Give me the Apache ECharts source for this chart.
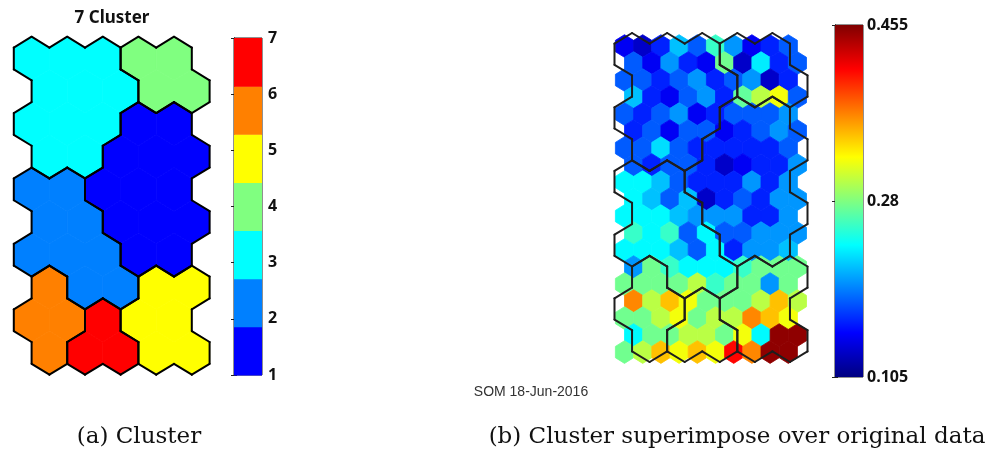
<!DOCTYPE html>
<html>
<head>
<meta charset="utf-8">
<script src="https://cdn.jsdelivr.net/npm/echarts@6/dist/echarts.min.js"></script>
<style>
  html, body { margin: 0; padding: 0; background: #ffffff; }
  #chart { width: 990px; height: 468px; }
</style>
</head>
<body>
<div id="chart"></div>
<script>
// Cluster label of every unit of the 10 x 5 hexagonal map (row 0 on top, odd rows shifted right)
const clusterRows = [
  [3, 3, 3, 4, 4],
  [3, 3, 3, 4, 4],
  [3, 3, 3, 1, 1],
  [3, 3, 1, 1, 1],
  [2, 2, 1, 1, 1],
  [2, 2, 1, 1, 1],
  [2, 2, 2, 1, 1],
  [6, 2, 2, 5, 5],
  [6, 6, 7, 5, 5],
  [6, 7, 7, 5, 5]
];
const clusterColors = ['#0000ff', '#0080ff', '#00ffff', '#80ff80', '#ffff00', '#ff8000', '#ff0000'];
const clusterTicks = [1, 2, 3, 4, 5, 6, 7];

// Original data plane, 19 x 10 hexagonal units (row 0 on top, odd rows shifted right)
const dataRows = [
  [0.145, 0.130, 0.160, 0.215, 0.180, 0.255, 0.200, 0.145, 0.160, 0.180],
  [0.180, 0.145, 0.200, 0.160, 0.145, 0.275, 0.130, 0.230, 0.160, 0.180],
  [0.180, 0.180, 0.160, 0.180, 0.200, 0.160, 0.180, 0.200, 0.130, 0.160],
  [0.215, 0.160, 0.145, 0.180, 0.200, 0.160, 0.270, 0.300, 0.320, 0.180],
  [0.180, 0.160, 0.180, 0.200, 0.145, 0.160, 0.180, 0.180, 0.180, 0.200],
  [0.160, 0.180, 0.145, 0.180, 0.180, 0.145, 0.160, 0.180, 0.200, 0.180],
  [0.180, 0.180, 0.225, 0.180, 0.160, 0.160, 0.160, 0.160, 0.160, 0.180],
  [0.180, 0.160, 0.180, 0.180, 0.160, 0.130, 0.145, 0.160, 0.160, 0.200],
  [0.235, 0.235, 0.215, 0.180, 0.160, 0.160, 0.160, 0.200, 0.160, 0.200],
  [0.235, 0.215, 0.180, 0.215, 0.130, 0.160, 0.180, 0.160, 0.200, 0.200],
  [0.235, 0.235, 0.235, 0.215, 0.200, 0.200, 0.200, 0.160, 0.160, 0.200],
  [0.255, 0.235, 0.255, 0.180, 0.235, 0.180, 0.180, 0.200, 0.200, 0.200],
  [0.235, 0.235, 0.235, 0.215, 0.180, 0.235, 0.160, 0.200, 0.200, 0.215],
  [0.200, 0.275, 0.255, 0.235, 0.235, 0.235, 0.255, 0.275, 0.275, 0.275],
  [0.275, 0.275, 0.275, 0.275, 0.300, 0.255, 0.275, 0.275, 0.200, 0.275],
  [0.365, 0.300, 0.345, 0.320, 0.275, 0.275, 0.275, 0.300, 0.345, 0.300],
  [0.275, 0.275, 0.300, 0.320, 0.275, 0.300, 0.300, 0.365, 0.345, 0.320],
  [0.235, 0.275, 0.275, 0.300, 0.300, 0.275, 0.320, 0.235, 0.450, 0.450],
  [0.275, 0.300, 0.345, 0.320, 0.345, 0.320, 0.410, 0.365, 0.450, 0.450]
];
const valueMin = 0.105;
const valueMax = 0.455;
const valueTicks = [0.105, 0.28, 0.455];
const valueTickLabels = ['0.105', '0.28', '0.455'];

const jetColors = ['#000080', '#0000ff', '#0080ff', '#00ffff', '#80ff80', '#ffff00', '#ff8000', '#ff0000', '#800000'];

// Pointy-top hexagon, in (column, row) units
const HEX = [[0, -2 / 3], [0.5, -1 / 3], [0.5, 1 / 3], [0, 2 / 3], [-0.5, 1 / 3], [-0.5, -1 / 3]];

function cellData(rows) {
  const out = [];
  rows.forEach((row, r) => row.forEach((v, c) => out.push([c + (r % 2 ? 0.5 : 0), r, v])));
  return out;
}

function neighbour(r, c, e) {
  const odd = r % 2 === 1;
  switch (e) {
    case 0: return [r - 1, odd ? c + 1 : c];
    case 1: return [r, c + 1];
    case 2: return [r + 1, odd ? c + 1 : c];
    case 3: return [r + 1, odd ? c : c - 1];
    case 4: return [r, c - 1];
    default: return [r - 1, odd ? c : c - 1];
  }
}

// Edges separating different clusters (and the outer border of the map)
function borderSegments(rows) {
  const segs = [];
  rows.forEach((row, r) => row.forEach((k, c) => {
    const x = c + (r % 2 ? 0.5 : 0);
    for (let e = 0; e < 6; e++) {
      const [nr, nc] = neighbour(r, c, e);
      const other = rows[nr] ? rows[nr][nc] : undefined;
      if (other !== k) {
        const a = HEX[e], b = HEX[(e + 1) % 6];
        segs.push([x + a[0], r + a[1], x + b[0], r + b[1]]);
      }
    }
  }));
  return segs;
}

function hexPoints(api) {
  const cx = api.value(0), cy = api.value(1);
  return HEX.map(v => api.coord([cx + v[0], cy + v[1]]));
}

function renderClusterHex(params, api) {
  const col = clusterColors[api.value(2) - 1];
  return { type: 'polygon', shape: { points: hexPoints(api) }, style: { fill: col, stroke: col, lineWidth: 0.8 } };
}

function renderDataHex(params, api) {
  const col = api.visual('color');
  return { type: 'polygon', shape: { points: hexPoints(api) }, style: { fill: col, stroke: col, lineWidth: 0.8 } };
}

function segmentRenderer(color, width) {
  return function (params, api) {
    const p1 = api.coord([api.value(0), api.value(1)]);
    const p2 = api.coord([api.value(2), api.value(3)]);
    return {
      type: 'line',
      shape: { x1: p1[0], y1: p1[1], x2: p2[0], y2: p2[1] },
      style: { stroke: color, lineWidth: width, lineCap: 'round' }
    };
  };
}

function renderClusterBand(params, api) {
  const k = api.value(0);
  const n = clusterTicks.length;
  const lo = 1 + (k - 1) * (n - 1) / n;
  const hi = 1 + k * (n - 1) / n;
  const p1 = api.coord([0, hi]);
  const p2 = api.coord([1, lo]);
  return {
    type: 'rect',
    shape: { x: p1[0], y: p1[1], width: p2[0] - p1[0], height: p2[1] - p1[1] + 0.5 },
    style: { fill: clusterColors[k - 1] }
  };
}

function renderValueBar(params, api) {
  const p1 = api.coord([0, api.value(1)]);
  const p2 = api.coord([1, api.value(0)]);
  const stops = jetColors.map((c, i) => ({ offset: i / (jetColors.length - 1), color: c }));
  return {
    type: 'rect',
    shape: { x: p1[0], y: p1[1], width: p2[0] - p1[0], height: p2[1] - p1[1] },
    style: { fill: new echarts.graphic.LinearGradient(0, 1, 0, 0, stops) }
  };
}

const hiddenAxis = (grid, min, max, inverse) => ({
  type: 'value', gridIndex: grid, min: min, max: max, inverse: !!inverse, show: false
});

const labelFont = { color: '#111', fontWeight: 'bold', fontFamily: 'Open Sans, Noto Sans, sans-serif' };

const chart = echarts.init(document.getElementById('chart'), null, { renderer: 'canvas' });

chart.setOption({
  animation: false,
  backgroundColor: '#ffffff',
  grid: [
    { left: 13.8, top: 36.7, width: 195.8, height: 338 },                 // cluster map
    { left: 615.4, top: 34.7, width: 191.1, height: 328.7 },              // data plane
    { left: 614.5, top: 33, width: 193, height: 329 },                    // cluster outline over data
    { left: 234, top: 38, width: 28, height: 337, show: true, borderColor: '#222', borderWidth: 1 },
    { left: 835, top: 25, width: 28, height: 352, show: true, borderColor: '#222', borderWidth: 1 }
  ],
  xAxis: [
    hiddenAxis(0, -0.5, 5),
    hiddenAxis(1, -0.5, 10),
    hiddenAxis(2, -0.5, 5),
    hiddenAxis(3, 0, 1),
    hiddenAxis(4, 0, 1)
  ],
  yAxis: [
    hiddenAxis(0, -2 / 3, 9 + 2 / 3, true),
    hiddenAxis(1, -2 / 3, 18 + 2 / 3, true),
    hiddenAxis(2, -2 / 3, 9 + 2 / 3, true),
    {
      type: 'value', gridIndex: 3, min: 1, max: 7, interval: 1, position: 'right',
      axisLine: { show: true, lineStyle: { color: '#222', width: 1 } },
      axisTick: { show: true, inside: true, length: 3, lineStyle: { color: '#222' } },
      axisLabel: Object.assign({ fontSize: 16, margin: 6 }, labelFont),
      splitLine: { show: false }
    },
    {
      type: 'value', gridIndex: 4, min: valueMin, max: valueMax, position: 'right',
      axisLine: { show: true, lineStyle: { color: '#222', width: 1 } },
      axisTick: { show: true, inside: true, length: 3, customValues: valueTicks, lineStyle: { color: '#222' } },
      axisLabel: Object.assign({
        fontSize: 16, margin: 4, customValues: valueTicks,
        formatter: v => {
          let best = 0;
          valueTicks.forEach((t, i) => { if (Math.abs(t - v) < Math.abs(valueTicks[best] - v)) best = i; });
          return valueTickLabels[best];
        }
      }, labelFont),
      splitLine: { show: false }
    },
    {
      type: 'value', gridIndex: 3, min: 1, max: 7, interval: 1, position: 'left',
      axisLine: { show: true, lineStyle: { color: '#222', width: 1 } },
      axisTick: { show: true, inside: true, length: 3, lineStyle: { color: '#222' } },
      axisLabel: { show: false }, splitLine: { show: false }
    },
    {
      type: 'value', gridIndex: 4, min: valueMin, max: valueMax, position: 'left',
      axisLine: { show: true, lineStyle: { color: '#222', width: 1 } },
      axisTick: { show: true, inside: true, length: 3, customValues: valueTicks, lineStyle: { color: '#222' } },
      axisLabel: { show: false }, splitLine: { show: false }
    }
  ],
  visualMap: [{
    type: 'continuous', show: false, seriesIndex: 2, dimension: 2,
    min: valueMin, max: valueMax, inRange: { color: jetColors }
  }],
  series: [
    {
      type: 'custom', name: 'clusters', xAxisIndex: 0, yAxisIndex: 0,
      renderItem: renderClusterHex, encode: { x: 0, y: 1 }, data: cellData(clusterRows), z: 2
    },
    {
      type: 'custom', name: 'cluster borders', xAxisIndex: 0, yAxisIndex: 0,
      renderItem: segmentRenderer('#000000', 2), encode: { x: [0, 2], y: [1, 3] },
      data: borderSegments(clusterRows), z: 3
    },
    {
      type: 'custom', name: 'data plane', xAxisIndex: 1, yAxisIndex: 1,
      renderItem: renderDataHex, encode: { x: 0, y: 1 }, data: cellData(dataRows), z: 2
    },
    {
      type: 'custom', name: 'cluster outline', xAxisIndex: 2, yAxisIndex: 2,
      renderItem: segmentRenderer('#1e1e1e', 2), encode: { x: [0, 2], y: [1, 3] },
      data: borderSegments(clusterRows), z: 4
    },
    {
      type: 'custom', name: 'cluster colorbar', xAxisIndex: 3, yAxisIndex: 3,
      renderItem: renderClusterBand, encode: { y: 0 }, data: clusterTicks.map(k => [k]), z: 1
    },
    {
      type: 'custom', name: 'value colorbar', xAxisIndex: 4, yAxisIndex: 4,
      renderItem: renderValueBar, encode: { y: [0, 1] }, data: [[valueMin, valueMax]], z: 1
    }
  ],
  graphic: [
    {
      type: 'text', z: 10, x: 112, y: 18,
      style: { text: '7 Cluster', align: 'center', verticalAlign: 'middle',
        font: 'bold 17px "Noto Sans", sans-serif', fill: '#111' }
    },
    {
      type: 'text', z: 10, x: 531, y: 392,
      style: { text: 'SOM 18-Jun-2016', align: 'center', verticalAlign: 'middle',
        font: '14px "Liberation Sans", Arial, sans-serif', fill: '#333' }
    },
    {
      type: 'text', z: 10, x: 139, y: 437,
      style: { text: '(a) Cluster', align: 'center', verticalAlign: 'middle',
        font: '23px "DejaVu Serif", serif', fill: '#111' }
    },
    {
      type: 'text', z: 10, x: 737, y: 437,
      style: { text: '(b) Cluster superimpose over original data', align: 'center', verticalAlign: 'middle',
        font: '23px "DejaVu Serif", serif', fill: '#111' }
    }
  ]
});
</script>
</body>
</html>
